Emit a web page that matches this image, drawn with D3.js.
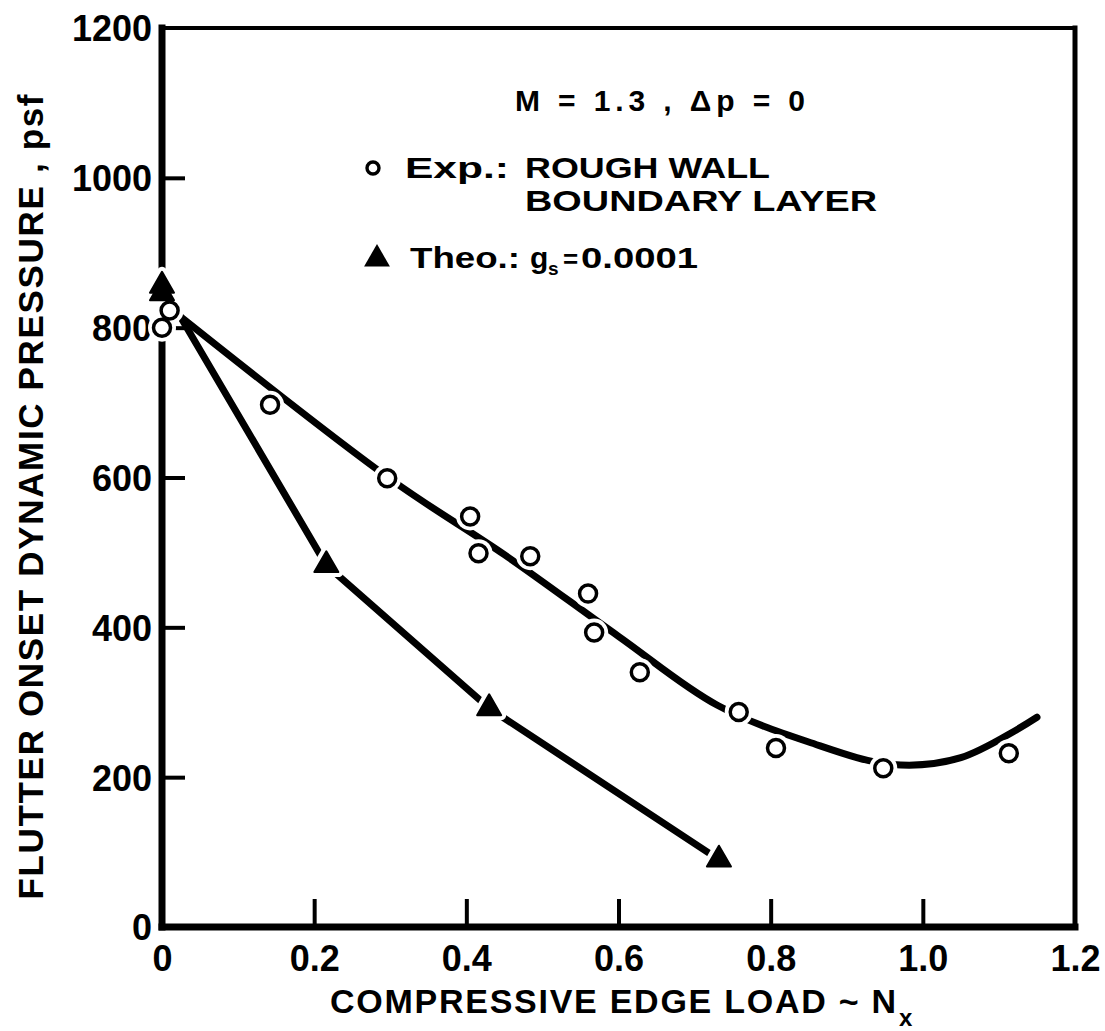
<!DOCTYPE html>
<html><head><meta charset="utf-8">
<script src="https://cdn.jsdelivr.net/npm/d3@7"></script>
<style>body{margin:0;background:#fff}svg{display:block}</style>
</head><body>
<svg id="c" width="1105" height="1031"></svg>
<script>
// ---- data ----
const xTickVals = [0, 0.2, 0.4, 0.6, 0.8, 1.0, 1.2];
const xTickLabels = ["0", "0.2", "0.4", "0.6", "0.8", "1.0", "1.2"];
const yTickVals = [0, 200, 400, 600, 800, 1000, 1200];
const yTickLabels = ["0", "200", "400", "600", "800", "1000", "1200"];

// Experimental: rough wall boundary layer (open circles)
const expX = [0, 0.01, 0.142, 0.296, 0.405, 0.416, 0.484, 0.560, 0.568, 0.628, 0.758, 0.807, 0.948, 1.113];
const expY = [800, 823, 697, 599, 548, 499, 495, 445, 393, 340, 287, 239, 212, 232];

// Faired curve through experiments
const fitX = [0.024, 0.30, 0.45, 0.60, 0.73, 0.85, 0.96, 1.05, 1.15];
const fitY = [815, 598, 497, 388, 296, 247, 217, 226, 280];

// Theory g_s = 0.0001 (filled triangles)
const theoX = [0, 0, 0.216, 0.430, 0.732];
const theoY = [856, 846, 483, 292, 90];
const theoLineX = [0.024, 0.216, 0.430, 0.732];
const theoLineY = [815, 483, 292, 90];

// ---- layout ----
const W = 1105, H = 1031;
const L = 162, R = 1075, T = 28, B = 927;
const x = d3.scaleLinear().domain([0, 1.2]).range([L, R]);
const y = d3.scaleLinear().domain([0, 1200]).range([B, T]);
const FONT = "'Liberation Sans', Arial, sans-serif";

const svg = d3.select("#c");
svg.append("rect").attr("width", W).attr("height", H).attr("fill", "#fff");

// frame
const fr = svg.append("g").attr("stroke", "#000").attr("stroke-linecap", "square");
fr.append("line").attr("x1", x(0)).attr("x2", x(0)).attr("y1", y(1200)).attr("y2", y(0)).attr("stroke-width", 7);
fr.append("line").attr("x1", x(0)).attr("x2", x(1.2)).attr("y1", y(0)).attr("y2", y(0)).attr("stroke-width", 7);
fr.append("line").attr("x1", x(0)).attr("x2", x(1.2)).attr("y1", y(1200)).attr("y2", y(1200)).attr("stroke-width", 4);
fr.append("line").attr("x1", x(1.2)).attr("x2", x(1.2)).attr("y1", y(1200)).attr("y2", y(0)).attr("stroke-width", 5);

// x axis
const gx = svg.append("g").attr("transform", `translate(0,${B})`)
  .call(d3.axisBottom(x).tickValues(xTickVals).tickFormat((d, i) => xTickLabels[i]).tickSize(-28));
gx.select(".domain").remove();
gx.selectAll(".tick line").attr("stroke-width", 4)
  .attr("display", d => (d === 0 || d === 1.2) ? "none" : null);
gx.selectAll(".tick text").attr("y", 44).attr("dy", null)
  .attr("font-family", FONT).attr("font-weight", "bold").attr("font-size", 36).attr("fill", "#000");

// y axis
const gy = svg.append("g").attr("transform", `translate(${L},0)`)
  .call(d3.axisLeft(y).tickValues(yTickVals).tickFormat((d, i) => yTickLabels[i]).tickSize(-23));
gy.select(".domain").remove();
gy.selectAll(".tick line").attr("stroke-width", 4)
  .attr("display", d => (d === 0 || d === 1200) ? "none" : null);
gy.selectAll(".tick text").attr("x", -10).attr("dy", "0.36em")
  .attr("font-family", FONT).attr("font-weight", "bold").attr("font-size", 36).attr("fill", "#000");

// curves
const fit = fitX.map((d, i) => [d, fitY[i]]);
svg.append("path").datum(fit)
  .attr("d", d3.line().x(d => x(d[0])).y(d => y(d[1])).curve(d3.curveCatmullRom.alpha(0.5)))
  .attr("fill", "none").attr("stroke", "#000").attr("stroke-width", 7).attr("stroke-linecap", "round");

const theoLine = theoLineX.map((d, i) => [d, theoLineY[i]]);
svg.append("path").datum(theoLine)
  .attr("d", d3.line().x(d => x(d[0])).y(d => y(d[1])))
  .attr("fill", "none").attr("stroke", "#000").attr("stroke-width", 7)
  .attr("stroke-linecap", "round").attr("stroke-linejoin", "round");

// markers with white halos
const exp = expX.map((d, i) => [d, expY[i]]);
const theo = theoX.map((d, i) => [d, theoY[i]]);
const tri = d3.symbol().type(d3.symbolTriangle).size(250);

svg.append("g").selectAll("circle").data(exp).join("circle")
  .attr("cx", d => x(d[0])).attr("cy", d => y(d[1])).attr("r", 14).attr("fill", "#fff");
svg.append("g").selectAll("path").data(theo).join("path")
  .attr("d", tri).attr("transform", d => `translate(${x(d[0])},${y(d[1])})`)
  .attr("fill", "#fff").attr("stroke", "#fff").attr("stroke-width", 10).attr("stroke-linejoin", "round");

svg.append("g").selectAll("circle").data(exp).join("circle")
  .attr("cx", d => x(d[0])).attr("cy", d => y(d[1])).attr("r", 8.5)
  .attr("fill", "#fff").attr("stroke", "#000").attr("stroke-width", 3.5);
svg.append("g").selectAll("path").data(theo).join("path")
  .attr("d", tri).attr("transform", d => `translate(${x(d[0])},${y(d[1])})`)
  .attr("fill", "#000").attr("stroke", "#000").attr("stroke-width", 2).attr("stroke-linejoin", "round");

// annotation / legend
function txt(s, tx, ty, size, len) {
  const t = svg.append("text").attr("x", tx).attr("y", ty).text(s)
    .attr("font-family", FONT).attr("font-weight", "bold").attr("font-size", size).attr("fill", "#000");
  if (len) t.attr("textLength", len).attr("lengthAdjust", "spacingAndGlyphs");
  return t;
}
const AS = 30;
txt("M = 1.3  ,  \u0394p = 0", 515, 111, AS, 290).attr("lengthAdjust", "spacing");
svg.append("circle").attr("cx", 373).attr("cy", 168).attr("r", 6)
  .attr("fill", "none").attr("stroke", "#000").attr("stroke-width", 3.4);
txt("Exp.:", 405, 178, AS, 104);
txt("ROUGH WALL", 525, 178, AS, 245);
txt("BOUNDARY LAYER", 525, 211, AS, 352);
svg.append("path").attr("d", d3.symbol().type(d3.symbolTriangle).size(290))
  .attr("transform", "translate(377,259)").attr("fill", "#000");
txt("Theo.:", 410, 268, AS, 110);
const th = svg.append("text").attr("y", 268)
  .attr("font-family", FONT).attr("font-weight", "bold").attr("font-size", AS).attr("fill", "#000");
th.append("tspan").attr("x", 530).text("g");
th.append("tspan").attr("x", 548).attr("dy", 7).attr("font-size", 19).text("s");
th.append("tspan").attr("x", 563).attr("dy", -7).attr("font-size", 26).text("=");
th.append("tspan").attr("x", 581).text("0.0001")
  .attr("textLength", 117).attr("lengthAdjust", "spacingAndGlyphs");

// axis titles
svg.append("text").attr("transform", "translate(43,497) rotate(-90)")
  .attr("text-anchor", "middle").text("FLUTTER ONSET DYNAMIC PRESSURE , psf")
  .attr("font-family", FONT).attr("font-weight", "bold").attr("font-size", 35).attr("fill", "#000")
  .attr("textLength", 805).attr("lengthAdjust", "spacing");
const xt = svg.append("text").attr("y", 1013)
  .attr("font-family", FONT).attr("font-weight", "bold").attr("font-size", 34).attr("fill", "#000");
xt.append("tspan").attr("x", 330).text("COMPRESSIVE EDGE LOAD ~ N")
  .attr("textLength", 566).attr("lengthAdjust", "spacing");
xt.append("tspan").attr("x", 899).attr("dy", 13).attr("font-size", 24).text("x");
</script>
</body></html>
